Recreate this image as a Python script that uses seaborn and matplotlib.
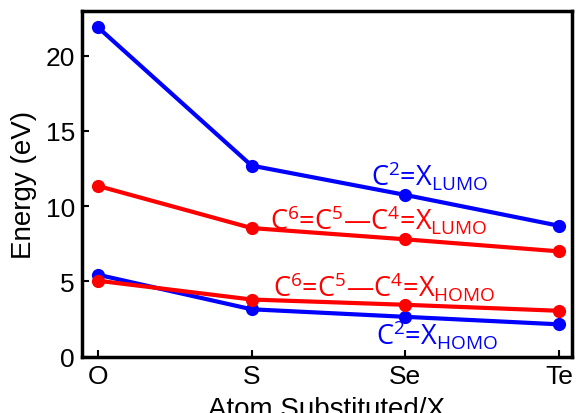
import numpy as np
import pandas as pd
import seaborn as sns
from matplotlib import pyplot as plt

atoms = ["O", "S", "Se", "Te"]
c2x_lumo = [21.9, 12.7, 10.75, 8.7]
c6x_lumo = [11.35, 8.55, 7.8, 7.0]
c2x_homo = [5.45, 3.15, 2.65, 2.15]
c6x_homo = [5.05, 3.8, 3.45, 3.05]

sns.set_style("ticks")
plt.rcParams['font.family'] = ['Liberation Sans', 'DejaVu Sans']
plt.rcParams['mathtext.fontset'] = 'custom'
plt.rcParams['mathtext.rm'] = 'Open Sans'
plt.rcParams['mathtext.it'] = 'Open Sans'
plt.rcParams['text.color'] = 'black'
plt.rcParams['axes.labelcolor'] = 'black'
plt.rcParams['xtick.color'] = 'black'
plt.rcParams['ytick.color'] = 'black'

df = pd.DataFrame({
    "atom": atoms * 4,
    "energy": c2x_lumo + c6x_lumo + c2x_homo + c6x_homo,
    "series": ["c2_lumo"] * 4 + ["c6_lumo"] * 4 + ["c2_homo"] * 4 + ["c6_homo"] * 4,
})
colors = {"c2_lumo": "#0000ff", "c6_lumo": "#ff0000", "c2_homo": "#0000ff", "c6_homo": "#ff0000"}

fig = plt.figure(figsize=(5.76, 4.14), dpi=100)
ax = fig.add_axes([0.142, 0.136, 0.851, 0.836])

for s in ["c2_lumo", "c6_lumo", "c2_homo", "c6_homo"]:
    sub = df[df.series == s]
    sns.lineplot(data=sub, x="atom", y="energy", color=colors[s], marker="o",
                 markersize=9.5, markeredgewidth=0, linewidth=3, ax=ax)

ax.set_xlim(-0.104, 3.084)
ax.set_ylim(0, 23)
ax.set_yticks([0, 5, 10, 15, 20])
ax.tick_params(direction="in", length=5, width=1.5, labelsize=19, pad=5)
for sp in ax.spines.values():
    sp.set_linewidth(2.5)
    sp.set_color("black")

# the label is partly cut off at the bottom edge, as in the reference
ax.set_xlabel("Atom Substituted/X", fontsize=20, labelpad=6)
ax.set_ylabel("Energy (eV)", fontsize=20, labelpad=6)

lab_kw = dict(fontsize=19.5, family=['Open Sans', 'DejaVu Sans'])
ax.text(1.78, 11.45, r"C$^{2}$=X$_{\mathrm{LUMO}}$", color="#0000ff", **lab_kw)
ax.text(1.12, 8.55, r"C$^{6}$=C$^{5}$—C$^{4}$=X$_{\mathrm{LUMO}}$", color="#ff0000", **lab_kw)
ax.text(1.14, 4.05, r"C$^{6}$=C$^{5}$—C$^{4}$=X$_{\mathrm{HOMO}}$", color="#ff0000", **lab_kw)
ax.text(1.81, 0.85, r"C$^{2}$=X$_{\mathrm{HOMO}}$", color="#0000ff", **lab_kw)

plt.savefig("out.png", dpi=100)
